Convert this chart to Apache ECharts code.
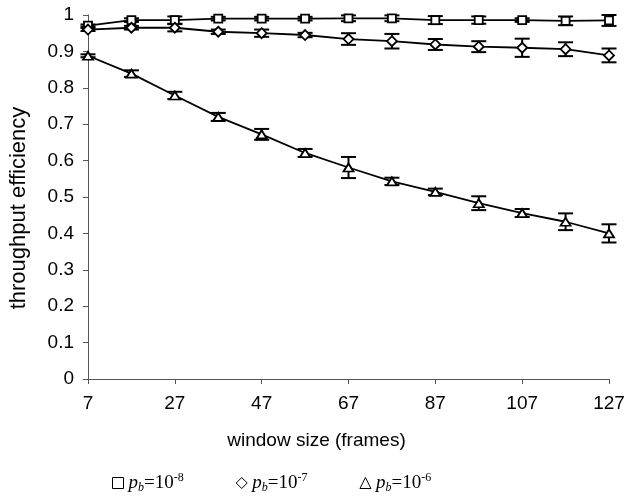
<!DOCTYPE html>
<html>
<head>
<meta charset="utf-8"/>
<title>throughput efficiency</title>
<script type="text/javascript" src="https://cdn.jsdelivr.net/npm/echarts@6/dist/echarts.min.js"></script>
<style type="text/css">
	html, body { margin: 0; padding: 0; background: #fff; }
	#chart { width: 629px; height: 500px; }
</style>
</head>
<body>
<div id="chart"></div>
<script type="text/javascript">
	// window size (frames)
	var windowSizes = [7, 17, 27, 37, 47, 57, 67, 77, 87, 97, 107, 117, 127];
	var xTicks = [7, 27, 47, 67, 87, 107, 127];

	// p_b = 10^-8
	var pb8 = [0.971, 0.986, 0.986, 0.990, 0.990, 0.990, 0.991, 0.991, 0.986, 0.986, 0.986, 0.984, 0.985];
	var pb8Err = [0.003, 0.005, 0.010, 0.005, 0.005, 0.005, 0.008, 0.008, 0.011, 0.010, 0.005, 0.012, 0.015];
	// p_b = 10^-7
	var pb7 = [0.960, 0.965, 0.965, 0.954, 0.950, 0.945, 0.934, 0.928, 0.919, 0.913, 0.910, 0.906, 0.889];
	var pb7Err = [0.004, 0.005, 0.010, 0.006, 0.010, 0.006, 0.016, 0.020, 0.015, 0.015, 0.025, 0.019, 0.019];
	// p_b = 10^-6
	var pb6 = [0.888, 0.839, 0.779, 0.720, 0.672, 0.621, 0.581, 0.543, 0.514, 0.483, 0.456, 0.432, 0.400];
	var pb6Err = [0.004, 0.009, 0.010, 0.011, 0.015, 0.011, 0.029, 0.010, 0.009, 0.019, 0.011, 0.023, 0.025];

	var seriesNames = ['p_b=10^-8', 'p_b=10^-7', 'p_b=10^-6'];
	var seriesSymbols = ['rect', 'diamond', 'triangle'];
	var symbolSizes = [[8, 8], [10, 10], [10, 8]];

	function pairs(ys){
		return ys.map(function(y, i){ return [windowSizes[i], y]; });
	}
	function bars(ys, errs){
		return ys.map(function(y, i){ return [windowSizes[i], y - errs[i], y + errs[i]]; });
	}

	function renderErrorBar(params, api){
		var x = api.value(0);
		var lo = api.coord([x, api.value(1)]);
		var hi = api.coord([x, api.value(2)]);
		var w = 7.5;
		var style = {stroke: '#000', lineWidth: 2};
		return {
			type: 'group',
			children: [
				{type: 'line', shape: {x1: lo[0], y1: lo[1], x2: hi[0], y2: hi[1]}, style: style},
				{type: 'line', shape: {x1: lo[0] - w, y1: lo[1], x2: lo[0] + w, y2: lo[1]}, style: style},
				{type: 'line', shape: {x1: hi[0] - w, y1: hi[1], x2: hi[0] + w, y2: hi[1]}, style: style}
			]
		};
	}

	var allValues = [pb8, pb7, pb6];
	var allErrs = [pb8Err, pb7Err, pb6Err];
	var series = [];
	allValues.forEach(function(ys, k){
		series.push({
			name: seriesNames[k],
			type: 'custom',
			renderItem: renderErrorBar,
			z: 1,
			silent: true,
			encode: {x: 0, y: [1, 2]},
			data: bars(ys, allErrs[k])
		});
	});
	allValues.forEach(function(ys, k){
		series.push({
			name: seriesNames[k],
			type: 'line',
			z: 3,
			symbol: seriesSymbols[k],
			symbolSize: symbolSizes[k],
			showAllSymbol: true,
			lineStyle: {color: '#000', width: 1.8},
			itemStyle: {color: '#fff', borderColor: '#000', borderWidth: 1.8},
			emphasis: {disabled: true},
			animation: false,
			data: pairs(ys)
		});
	});

	var option = {
		backgroundColor: '#fff',
		animation: false,
		grid: {left: 87, right: 20, top: 15, bottom: 121, containLabel: false},
		legend: {
			left: 112,
			top: 472,
			padding: 0,
			itemWidth: 11,
			itemHeight: 11,
			itemGap: 52,
			data: seriesNames.map(function(n, k){
				return {name: n, icon: ['rect', 'diamond', 'triangle'][k]};
			}),
			itemStyle: {color: '#fff', borderColor: '#000', borderWidth: 1},
			formatter: function(name){
				var e = name.split('^')[1];
				return '{i|p}{s|b}{n|=10}{u|' + e + '}';
			},
			textStyle: {
				rich: {
					i: {fontFamily: 'Liberation Serif', fontStyle: 'italic', fontSize: 19, color: '#000', lineHeight: 22},
					s: {fontFamily: 'Liberation Serif', fontStyle: 'italic', fontSize: 12, color: '#000', lineHeight: 13, verticalAlign: 'bottom'},
					n: {fontFamily: 'Liberation Serif', fontSize: 19, color: '#000', lineHeight: 22},
					u: {fontFamily: 'Liberation Serif', fontSize: 12, color: '#000', lineHeight: 13, verticalAlign: 'top'}
				}
			}
		},
		xAxis: {
			type: 'value',
			min: xTicks[0],
			max: xTicks[xTicks.length - 1],
			interval: 20,
			name: 'window size (frames)',
			nameLocation: 'middle',
			nameGap: 52,
			nameTextStyle: {fontFamily: 'Liberation Sans', fontSize: 19, color: '#000', padding: [0, 64, 0, 0]},
			axisLine: {lineStyle: {color: '#555', width: 1}},
			axisTick: {show: true, length: 5, lineStyle: {color: '#555'}},
			axisLabel: {fontFamily: 'Liberation Sans', fontSize: 19, color: '#000', margin: 15},
			splitLine: {show: false}
		},
		yAxis: {
			type: 'value',
			min: 0,
			max: 1,
			interval: 0.1,
			name: 'throughput efficiency',
			nameLocation: 'middle',
			nameGap: 58,
			nameTextStyle: {fontFamily: 'Liberation Sans', fontSize: 22, color: '#000', padding: [0, 22, 0, 0]},
			axisLine: {show: true, lineStyle: {color: '#555', width: 1}},
			axisTick: {show: true, length: 5, lineStyle: {color: '#555'}},
			axisLabel: {fontFamily: 'Liberation Sans', fontSize: 19, color: '#000', margin: 14},
			splitLine: {show: false}
		},
		series: series
	};

	var chart = echarts.init(document.getElementById('chart'), null, {renderer: 'canvas'});
	chart.setOption(option);
</script>
</body>
</html>
